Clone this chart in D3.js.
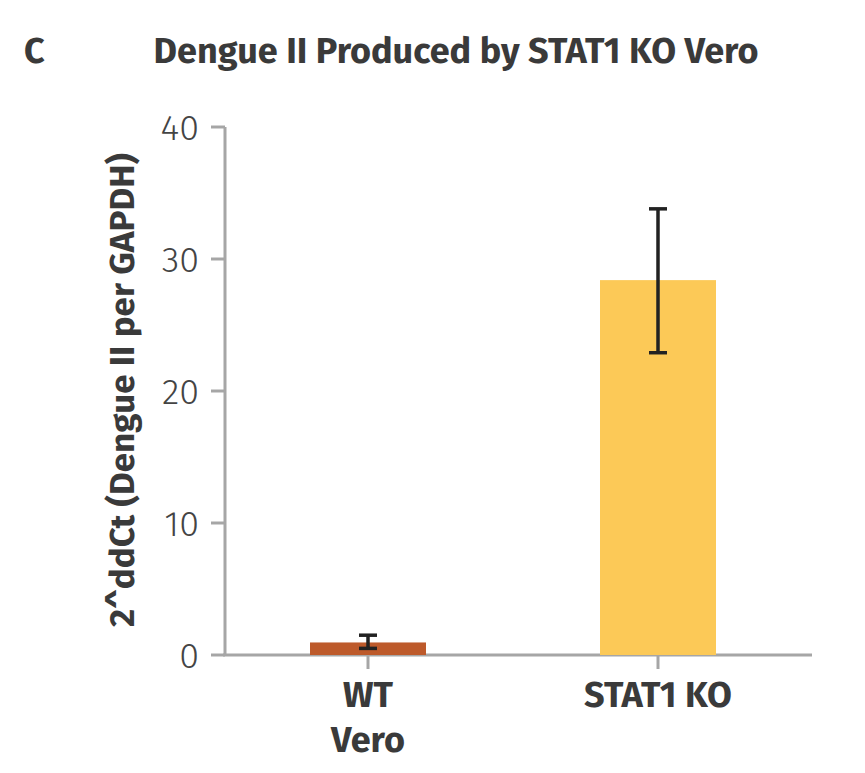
<!DOCTYPE html><html><head><meta charset="utf-8"><script src="https://d3js.org/d3.v7.min.js"></script>
<style>body{margin:0;background:#fff}text{font-family:"Fira Sans","Noto Sans",sans-serif}</style></head><body><script>
const categories=[["WT","Vero"],["STAT1 KO"]];
const values=[0.95,28.4];
const errLow=[0.5,22.9];
const errHigh=[1.5,33.8];
const colors=["#bd5a2b","#fcc957"];
const yTicks=[0,10,20,30,40];
const W=865,H=773;
const svg=d3.select("body").append("svg").attr("width",W).attr("height",H);
const y=d3.scaleLinear().domain([0,40]).range([655,127]);
const x=d3.scaleBand().domain([0,1]).range([223,803]).paddingInner(0.6).paddingOuter(0.3);
const grey="#a6a6a6";
svg.append("line").attr("x1",225).attr("x2",225).attr("y1",y(40)).attr("y2",y(0)).attr("stroke",grey).attr("stroke-width",3);
svg.append("line").attr("x1",223).attr("x2",812).attr("y1",y(0)).attr("y2",y(0)).attr("stroke",grey).attr("stroke-width",3);
yTicks.forEach(t=>{
 svg.append("line").attr("x1",211).attr("x2",225).attr("y1",y(t)).attr("y2",y(t)).attr("stroke",grey).attr("stroke-width",3);
 svg.append("text").attr("x",199).attr("y",y(t)).attr("dy","0.35em").attr("text-anchor","end").attr("font-size",36).attr("fill","#444").attr("font-weight",300).text(t);
});
values.forEach((v,i)=>{
 const cx=x(i)+x.bandwidth()/2;
 svg.append("rect").attr("x",x(i)).attr("width",x.bandwidth()).attr("y",y(v)).attr("height",y(0)-y(v)).attr("fill",colors[i]);
 svg.append("line").attr("x1",cx).attr("x2",cx).attr("y1",y(0)).attr("y2",y(0)+14).attr("stroke",grey).attr("stroke-width",3);
 const eb=svg.append("g").attr("stroke","#222").attr("stroke-width",3.5);
 eb.append("line").attr("x1",cx).attr("x2",cx).attr("y1",y(errLow[i])).attr("y2",y(errHigh[i]));
 [errLow[i],errHigh[i]].forEach(e=>eb.append("line").attr("x1",cx-9).attr("x2",cx+9).attr("y1",y(e)).attr("y2",y(e)));
 categories[i].forEach((l,j)=>svg.append("text").attr("x",cx).attr("y",707+j*45).attr("text-anchor","middle").attr("font-size",36).attr("font-weight",700).attr("fill","#3a3a3a").text(l));
});
svg.append("text").attr("transform","translate(134,390) rotate(-90)").attr("text-anchor","middle").attr("font-size",35).attr("font-weight",700).attr("fill","#3a3a3a").text("2^ddCt (Dengue II per GAPDH)");
svg.append("text").attr("x",24).attr("y",63).attr("font-size",36).attr("font-weight",700).attr("fill","#3a3a3a").text("C");
svg.append("text").attr("x",456).attr("y",63).attr("text-anchor","middle").attr("font-size",36).attr("font-weight",700).attr("fill","#3a3a3a").text("Dengue II Produced by STAT1 KO Vero");
</script></body></html>
